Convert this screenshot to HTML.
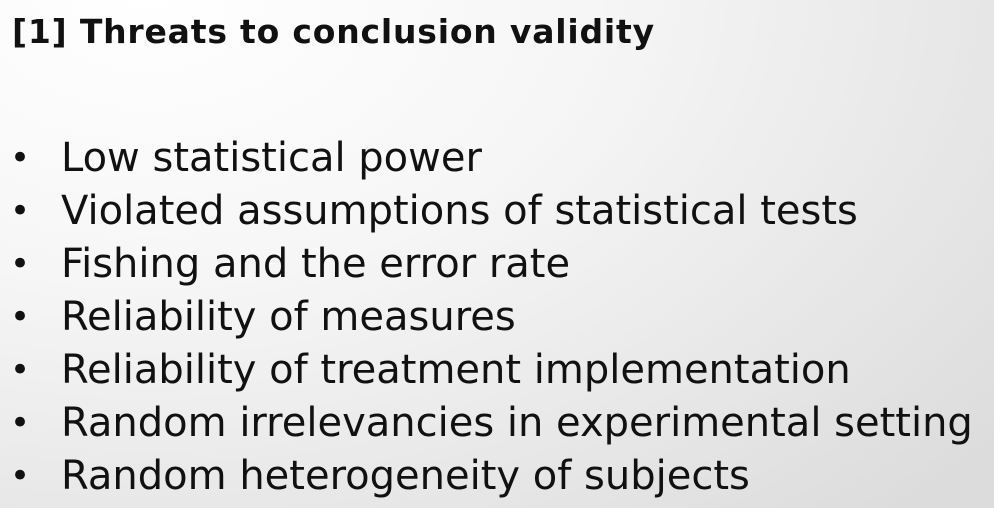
<!DOCTYPE html>
<html><head><meta charset="utf-8"><style>
html,body{margin:0;padding:0}
body{width:994px;height:508px;overflow:hidden;position:relative;
background:radial-gradient(ellipse 1100px 700px at 15% 0%,#ffffff 0%,#f6f6f6 40%,#dcdcdc 100%);
font-family:"DejaVu Sans","Liberation Sans",sans-serif;color:#111}
#title{position:absolute;left:12px;top:12px;font-size:33px;font-weight:bold;white-space:nowrap;letter-spacing:0.8px}
.item{position:absolute;left:0;font-size:40px;white-space:nowrap;line-height:44px}
.dot{position:absolute;left:10px;font-size:34px}
.txt{position:absolute;left:61px}
</style></head><body>
<div id="title">[1] Threats to conclusion validity</div>
<div id="list"></div>
<script>
const items=["Low statistical power","Violated assumptions of statistical tests","Fishing and the error rate","Reliability of measures","Reliability of treatment implementation","Random irrelevancies in experimental setting","Random heterogeneity of subjects"];
const list=document.getElementById('list');
items.forEach((t,i)=>{
  const d=document.createElement('div');
  d.className='item';
  d.style.top=(136+i*53)+'px';
  
  
  d.innerHTML='<span class="dot">•</span><span class="txt"></span>';
  d.querySelector('.txt').textContent=t;
  list.appendChild(d);
});
</script>
</body></html>
